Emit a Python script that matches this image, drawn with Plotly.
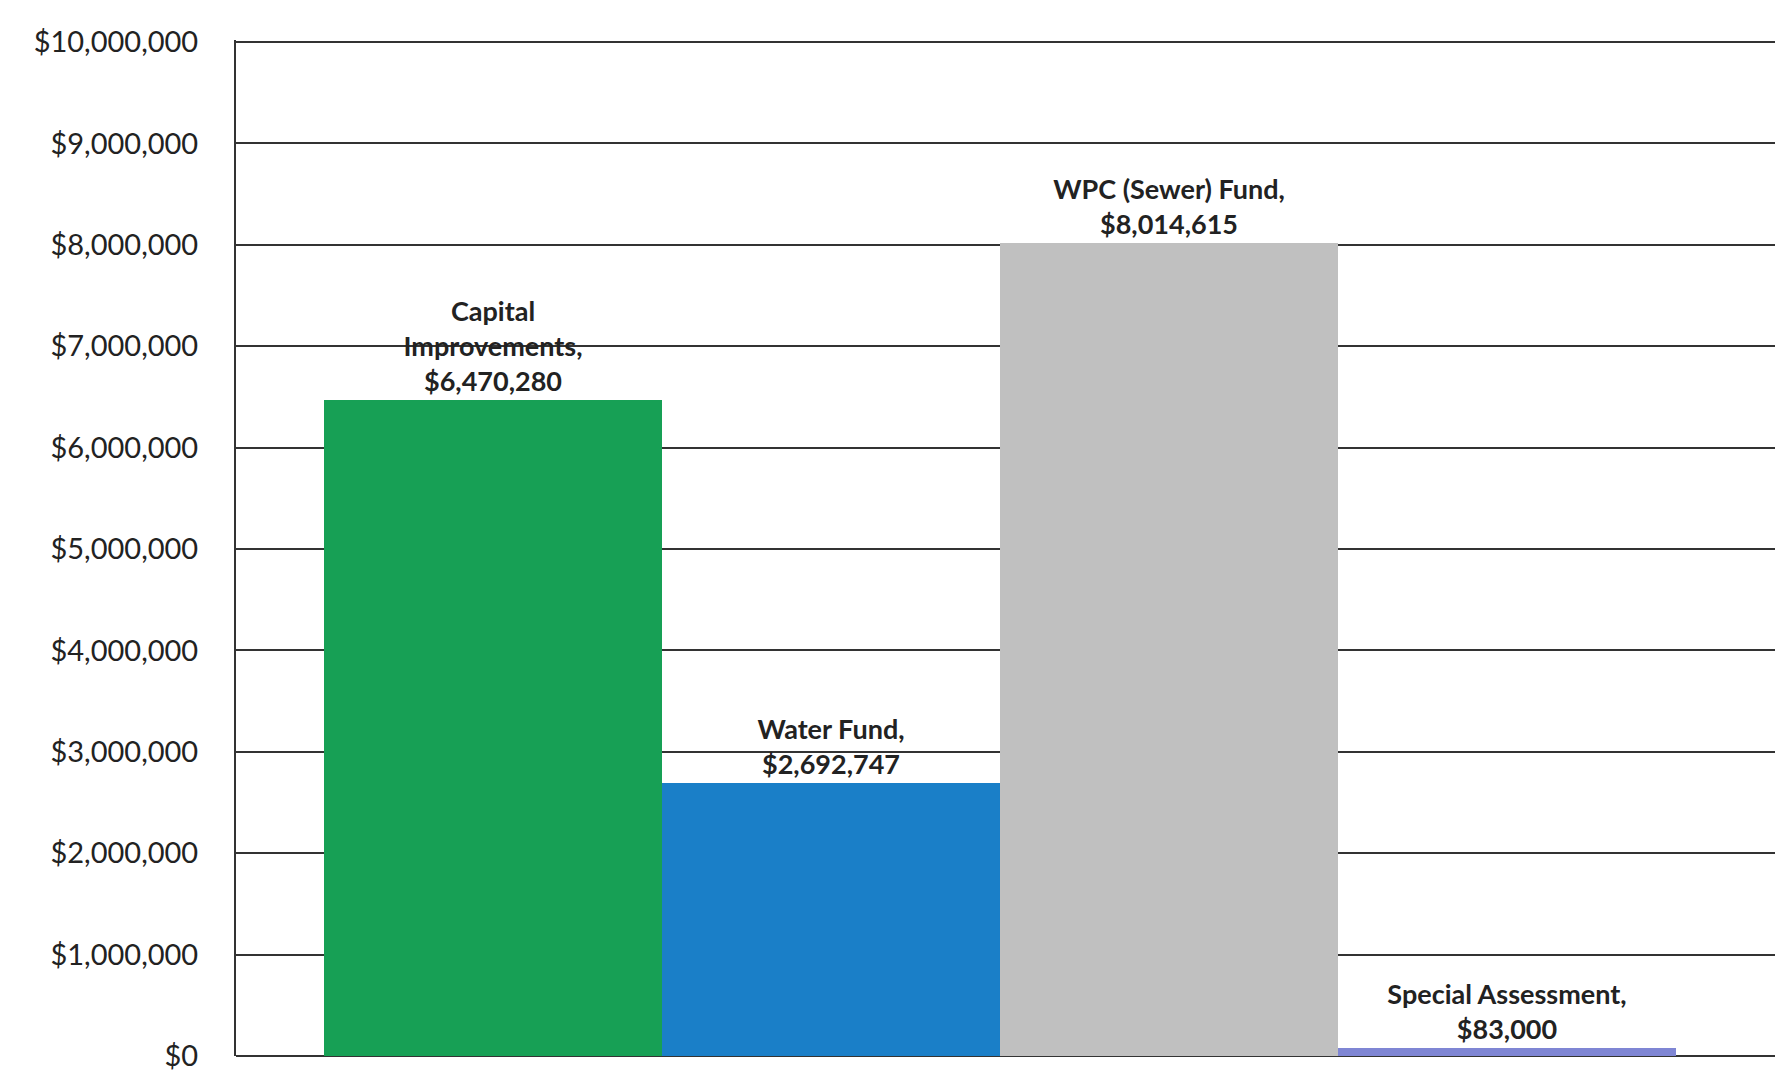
import plotly.graph_objects as go

categories = ["Capital Improvements", "Water Fund", "WPC (Sewer) Fund", "Special Assessment"]
values = [6470280, 2692747, 8014615, 83000]
label_names = ["Capital<br>Improvements,", "Water Fund,", "WPC (Sewer) Fund,", "Special Assessment,"]
colors = ["#17a055", "#1a7fc8", "#c0c0c0", "#7f86d4"]
tick_values = [0, 1000000, 2000000, 3000000, 4000000, 5000000, 6000000, 7000000, 8000000, 9000000, 10000000]
tick_labels = [f"${v:,}" for v in tick_values]

texts = [f"<b>{n}<br>${v:,}</b>" for n, v in zip(label_names, values)]

fig = go.Figure()
fig.add_trace(go.Bar(
    x=list(range(len(categories))),
    y=values,
    marker=dict(color=colors, line=dict(width=0)),
    width=1.0,
    text=texts,
    textposition="outside",
    textfont=dict(family="Lato, Open Sans, sans-serif", size=27, color="#222222"),
    cliponaxis=False,
    hovertext=categories,
))

fig.update_layout(
    width=1783, height=1078,
    margin=dict(l=228, r=0, t=32, b=30),
    paper_bgcolor="white", plot_bgcolor="white",
    showlegend=False,
    bargap=0,
    font=dict(family="Lato, Open Sans, sans-serif", color="#222222"),
    xaxis=dict(range=[-0.76, 3.84], showticklabels=False, showgrid=False,
               zeroline=False, showline=False, ticks=""),
    yaxis=dict(range=[0, 10020000], tickvals=tick_values, ticktext=tick_labels,
               tickfont=dict(size=29, family="Lato, Open Sans, sans-serif", color="#222222"),
               showgrid=True, gridcolor="#333333", gridwidth=2,
               showline=True, linecolor="#333333", linewidth=2,
               zeroline=True, zerolinecolor="#333333", zerolinewidth=2,
               ticks="", ticklabelstandoff=30),
)

fig.write_html("out.html")
